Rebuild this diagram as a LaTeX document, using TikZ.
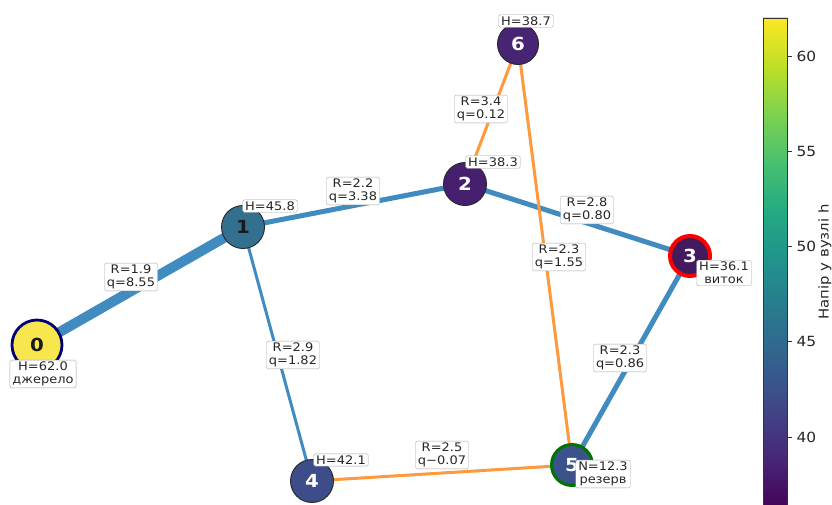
\documentclass[tikz,border=0pt]{standalone}
\usepackage{fontspec}
\setmainfont[FakeStretch=1.1]{DejaVu Sans}
\usetikzlibrary{backgrounds}
\definecolor{eblue}{HTML}{408BBF}
\definecolor{eorange}{HTML}{FF993E}
\definecolor{vA}{HTML}{440154}
\definecolor{vB}{HTML}{482475}
\definecolor{vC}{HTML}{414487}
\definecolor{vD}{HTML}{355F8D}
\definecolor{vE}{HTML}{2A788E}
\definecolor{vF}{HTML}{21918C}
\definecolor{vG}{HTML}{22A884}
\definecolor{vH}{HTML}{44BF70}
\definecolor{vI}{HTML}{7AD151}
\definecolor{vJ}{HTML}{BDDF26}
\definecolor{vK}{HTML}{FDE725}
\definecolor{cn0}{HTML}{F8E64E}
\definecolor{cn1}{HTML}{33708F}
\definecolor{cn2}{HTML}{46206F}
\definecolor{cn6}{HTML}{482475}
\definecolor{cn3}{HTML}{441A5E}
\definecolor{cn4}{HTML}{3D4D89}
\definecolor{cn5}{HTML}{3B528B}
\begin{document}
\begin{tikzpicture}[x=1pt,y=-1pt,
  vnode/.style={circle, draw=black!85, line width=0.9pt, minimum size=43pt, inner sep=0pt,
    font=\fontsize{18}{18}\selectfont\bfseries, text=white},
  lbl/.style={draw=black!35, fill=white, rounded corners=1.5pt, inner xsep=2.5pt, inner ysep=1.8pt, align=center,
    font=\fontsize{11.8}{13}\selectfont, text=black!85},
  pipeb/.style={draw=eblue},
  pipeo/.style={draw=eorange, line width=3pt},
  tickl/.style={anchor=west, font=\fontsize{14}{14}\selectfont, text=black!85}
]
\useasboundingbox (0,0) rectangle (832,504);
\begin{scope}[on background layer]
\fill[white] (0,0) rectangle (832,504);
\end{scope}

% nodes
\node[vnode, fill=cn0, draw=blue!45!black, line width=2.8pt, minimum size=50pt, text=black!90] (n0) at (37,345) {0};
\node[vnode, fill=cn1, text=black!90] (n1) at (243,227) {1};
\node[vnode, fill=cn2] (n2) at (465,184) {2};
\node[vnode, fill=cn6, minimum size=41pt] (n6) at (518,44) {6};
\node[vnode, fill=cn3, draw=red, line width=4pt, minimum size=40pt] (n3) at (690,256) {3};
\node[vnode, fill=cn4] (n4) at (312,481) {4};
\node[vnode, fill=cn5, draw=green!45!black, line width=3pt, minimum size=41pt] (n5) at (572,465) {5};

% pipes behind nodes
\begin{scope}[on background layer]
\draw[pipeb, line width=10pt] (n0.center) -- (n1.center);
\draw[pipeb, line width=5pt] (n1.center) -- (n2.center);
\draw[pipeb, line width=3pt] (n1.center) -- (n4.center);
\draw[pipeb, line width=5pt] (n2.center) -- (n3.center);
\draw[pipeb, line width=5pt] (n3.center) -- (n5.center);
\draw[pipeo] (n2.center) -- (n6.center);
\draw[pipeo] (n6.center) -- (n5.center);
\draw[pipeo] (n4.center) -- (n5.center);
\end{scope}

% pipe labels
\node[lbl] (p01) at (131,277) {R=1.9\\q=8.55};
\node[lbl] (p12) at (353,191) {R=2.2\\q=3.38};
\node[lbl] (p14) at (293,355) {R=2.9\\q=1.82};
\node[lbl] (p23) at (587,210) {R=2.8\\q=0.80};
\node[lbl] (p26) at (481,109) {R=3.4\\q=0.12};
\node[lbl] (p65) at (559,257) {R=2.3\\q=1.55};
\node[lbl] (p35) at (620,358) {R=2.3\\q=0.86};
\node[lbl] (p45) at (442,455) {R=2.5\\q−0.07};

% node labels
\node[lbl] (h0) at (43,374) {H=62.0\\джерело};
\node[lbl] (h1) at (270,206) {H=45.8};
\node[lbl] (h2) at (493,162) {H=38.3};
\node[lbl] (h6) at (526,21) {H=38.7};
\node[lbl] (h3) at (724,273) {H=36.1\\виток};
\node[lbl] (h4) at (341,460) {H=42.1};
\node[lbl] (h5) at (603,474) {N=12.3\\резерв};

% colorbar
\begin{scope}
\clip (0,0) rectangle (832,504);
\foreach \ca/\cb [count=\i from 0] in {vA/vB,vB/vC,vC/vD,vD/vE,vE/vF,vF/vG,vG/vH,vH/vI,vI/vJ,vJ/vK}{
  \pgfmathsetmacro{\ya}{511-49.3*\i}
  \pgfmathsetmacro{\yb}{511-49.3*(\i+1)-0.4}
  \shade[bottom color=\ca, top color=\cb] (763,\yb) rectangle (787,\ya);
}
\draw[black!80, line width=0.7pt] (763,18) rectangle (787,511);
\end{scope}
\foreach \v/\y in {60/56,55/151,50/246,45/341,40/437}{
  \draw[black!80, line width=0.7pt] (787,\y) -- (792,\y);
  \node[tickl] (t\v) at (793,\y) {\v};
}
\node[rotate=90, font=\fontsize{13.5}{13.5}\selectfont, text=black!85] (cbl) at (825,262) {Напір у вузлі h};
\end{tikzpicture}
\end{document}
